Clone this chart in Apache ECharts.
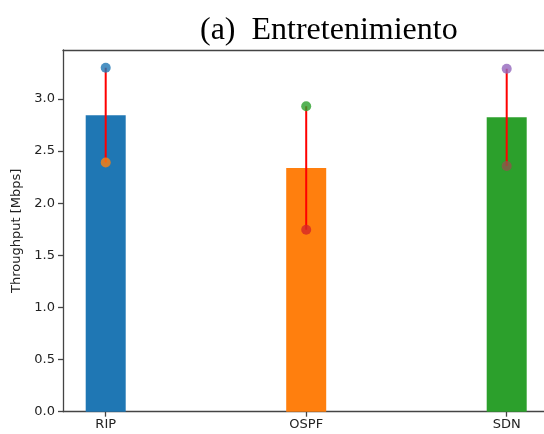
<!DOCTYPE html>
<html>
<head>
<meta charset="utf-8">
<script src="https://cdn.jsdelivr.net/npm/echarts@6/dist/echarts.min.js"></script>
<style>html,body{margin:0;padding:0;background:#fff}#c{width:544px;height:434px}</style>
</head>
<body>
<div id="c"></div>
<script>
const categories = ['RIP', 'OSPF', 'SDN'];
const barValues = [2.845, 2.339, 2.825];
const highValues = [3.30, 2.93, 3.29];
const lowValues = [2.39, 1.745, 2.358];
const barColors = ['#1f77b4', '#ff7f0e', '#2ca02c'];
const highColors = ['#1f77b4', '#2ca02c', '#9467bd'];
const lowColors = ['#ff7f0e', '#d62728', '#8c564b'];
const yTicks = [0, 0.5, 1.0, 1.5, 2.0, 2.5, 3.0];

const chart = echarts.init(document.getElementById('c'), null, {renderer: 'canvas'});
const font = 'DejaVu Sans';
const axisColor = '#444';
const series = [];
series.push({
  type: 'bar',
  barWidth: 40,
  data: barValues.map((v, i) => ({value: [i, v], itemStyle: {color: barColors[i]}})),
  z: 1
});
categories.forEach((c, i) => {
  series.push({
    type: 'line',
    data: [[i, lowValues[i]], [i, highValues[i]]],
    showSymbol: false,
    symbol: 'none',
    lineStyle: {color: '#ff0000', width: 2},
    z: 2,
    silent: true
  });
});
series.push({
  type: 'scatter',
  symbolSize: 10,
  data: highValues.map((v, i) => ({value: [i, v], itemStyle: {color: highColors[i]}})),
  z: 3
});
series.push({
  type: 'scatter',
  symbolSize: 10,
  data: lowValues.map((v, i) => ({value: [i, v], itemStyle: {color: lowColors[i]}})),
  z: 3
});

chart.setOption({
  animation: false,
  backgroundColor: '#fff',
  title: {
    text: '(a)  Entretenimiento',
    left: 195,
    top: 10,
    textStyle: {fontFamily: 'Liberation Serif', fontSize: 32, fontWeight: 'normal', color: '#000'}
  },
  grid: {left: 63, top: 50, right: 0, height: 361.7, show: false},
  xAxis: [{
    type: 'value',
    min: -0.213,
    max: 2.186,
    splitLine: {show: false},
    axisLine: {show: true, onZero: false, lineStyle: {color: axisColor, width: 1.3}},
    axisTick: {show: true, length: 5, customValues: [0, 1, 2], lineStyle: {color: axisColor, width: 1.3}},
    axisLabel: {customValues: [0, 1, 2], formatter: v => categories[Math.round(v)] || '', fontFamily: font, fontSize: 13, color: '#222', margin: 6}
  }, {
    type: 'value',
    position: 'top',
    min: -0.213,
    max: 2.186,
    splitLine: {show: false},
    axisLine: {show: true, onZero: false, lineStyle: {color: axisColor, width: 1.3}},
    axisTick: {show: false},
    axisLabel: {show: false}
  }],
  yAxis: {
    type: 'value',
    min: 0,
    max: 3.47,
    name: 'Throughput [Mbps]',
    nameLocation: 'middle',
    nameGap: 32,
    nameTextStyle: {fontFamily: font, fontSize: 13, color: '#222'},
    splitLine: {show: false},
    axisLine: {show: true, onZero: false, lineStyle: {color: axisColor, width: 1.3}},
    axisTick: {show: true, length: 5, customValues: yTicks, lineStyle: {color: axisColor, width: 1.3}},
    axisLabel: {customValues: yTicks, formatter: v => v.toFixed(1), fontFamily: font, fontSize: 13, color: '#222', margin: 8}
  },
  series: series
});
</script>
</body>
</html>
